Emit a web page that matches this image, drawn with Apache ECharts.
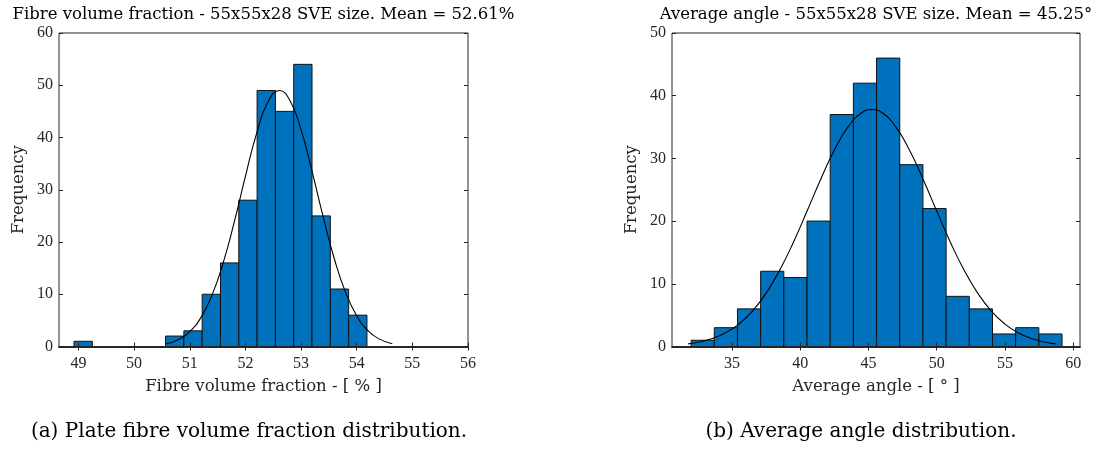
<!DOCTYPE html>
<html>
<head>
<meta charset="utf-8">
<script src="https://cdn.jsdelivr.net/npm/echarts@6/dist/echarts.min.js"></script>
<style>html,body{margin:0;padding:0;background:#fff}#c{width:1099px;height:452px}</style>
</head>
<body>
<div id="c"></div>
<script>
// ---- data: plot (a) fibre volume fraction ----
var binStartA = 48.92;
var binWidthA = 0.329;
var countsA = [1, 0, 0, 0, 0, 2, 3, 10, 16, 28, 49, 45, 54, 25, 11, 6];
var fitXA = [50.58, 50.8, 51.0, 51.2, 51.4, 51.6, 51.8, 52.0, 52.2, 52.4, 52.61, 52.8, 53.0, 53.2, 53.4, 53.6, 53.8, 54.0, 54.2, 54.4, 54.64];
var fitYA = [0.53, 1.35, 2.85, 5.53, 9.83, 16.0, 23.85, 32.57, 40.75, 46.68, 49.0, 47.1, 41.46, 33.44, 24.7, 16.7, 10.36, 5.88, 3.05, 1.46, 0.53];
var xTicksA = [49, 50, 51, 52, 53, 54, 55, 56];
var yTicksA = [0, 10, 20, 30, 40, 50, 60];

// ---- data: plot (b) average angle ----
var binStartB = 32.0;
var binWidthB = 1.699;
var countsB = [1, 3, 6, 12, 11, 20, 37, 42, 46, 29, 22, 8, 6, 2, 3, 2];
var fitXB = [31.78, 32.5, 33.5, 34.5, 35.5, 36.5, 37.5, 38.5, 39.5, 40.5, 41.5, 42.5, 43.5, 44.5, 45.25, 46, 47, 48, 49, 50, 51, 52, 53, 54, 55, 56, 57, 58, 58.72];
var fitYB = [0.42, 0.67, 1.23, 2.15, 3.58, 5.66, 8.52, 12.21, 16.64, 21.6, 26.67, 31.34, 35.03, 37.28, 37.8, 37.28, 35.03, 31.34, 26.67, 21.6, 16.64, 12.21, 8.52, 5.66, 3.58, 2.15, 1.23, 0.67, 0.42];
var xTicksB = [35, 40, 45, 50, 55, 60];
var yTicksB = [0, 10, 20, 30, 40, 50];

var FONT = '"Liberation Serif", "DejaVu Serif", serif';
var TFONT = '"DejaVu Serif", "Liberation Serif", serif';
var AX = '#262626';

function bins(start, w, counts) {
  return counts.map(function (c, i) { return [start + i * w, start + (i + 1) * w, c]; });
}
function zip(xs, ys) { return xs.map(function (x, i) { return [x, ys[i]]; }); }

function renderBar(params, api) {
  var x0 = api.value(0), x1 = api.value(1), y = api.value(2);
  var p0 = api.coord([x0, y]);
  var p1 = api.coord([x1, 0]);
  return {
    type: 'rect',
    shape: { x: p0[0], y: p0[1], width: p1[0] - p0[0], height: p1[1] - p0[1] },
    style: { fill: '#0072BD', stroke: '#111', lineWidth: 1 }
  };
}

function xAxes(gi, min, max, ticks, name) {
  return [{
    type: 'value', gridIndex: gi, position: 'bottom', min: min, max: max,
    axisLine: { show: true, onZero: false, lineStyle: { color: AX, width: 1.8 } }, splitLine: { show: false },
    axisTick: { show: true, inside: true, length: 4, lineStyle: { color: AX }, customValues: ticks },
    axisLabel: { show: true, customValues: ticks, color: '#262626', fontFamily: FONT, fontSize: 16, margin: 9 },
    name: name, nameLocation: 'middle', nameGap: 32,
    nameTextStyle: { color: '#262626', fontFamily: TFONT, fontSize: 16.5 },
    z: 5
  }, {
    type: 'value', gridIndex: gi, position: 'top', min: min, max: max,
    axisLine: { show: false }, splitLine: { show: false },
    axisTick: { show: true, inside: true, length: 4, lineStyle: { color: AX }, customValues: ticks },
    axisLabel: { show: false }
  }];
}
function yAxes(gi, max, ticks) {
  return [{
    type: 'value', gridIndex: gi, position: 'left', min: 0, max: max, interval: 10,
    axisLine: { show: false }, splitLine: { show: false },
    axisTick: { show: true, inside: true, length: 4, lineStyle: { color: AX } },
    axisLabel: { show: true, color: '#262626', fontFamily: FONT, fontSize: 16, margin: 6 },
    name: 'Frequency', nameLocation: 'middle', nameGap: 32, nameRotate: 90,
    nameTextStyle: { color: '#262626', fontFamily: TFONT, fontSize: 16.5 }
  }, {
    type: 'value', gridIndex: gi, position: 'right', min: 0, max: max, interval: 10,
    axisLine: { show: false }, splitLine: { show: false },
    axisTick: { show: true, inside: true, length: 4, lineStyle: { color: AX } },
    axisLabel: { show: false }
  }];
}

var chart = echarts.init(document.getElementById('c'), null, { renderer: 'canvas' });
var option = {
  animation: false,
  backgroundColor: '#fff',
  grid: [
    { left: 59, top: 33, width: 409, height: 313.5, show: true, borderColor: AX, borderWidth: 1, backgroundColor: 'transparent' },
    { left: 672, top: 33, width: 408, height: 313.5, show: true, borderColor: AX, borderWidth: 1, backgroundColor: 'transparent' }
  ],
  xAxis: xAxes(0, 48.65, 56, xTicksA, 'Fibre volume fraction - [ % ]')
    .concat(xAxes(1, 30.6, 60.5, xTicksB, 'Average angle - [ \u00B0 ]')),
  yAxis: yAxes(0, 60, yTicksA).concat(yAxes(1, 50, yTicksB)),
  series: [
    { type: 'custom', xAxisIndex: 0, yAxisIndex: 0, renderItem: renderBar, encode: { x: [0, 1], y: 2 }, data: bins(binStartA, binWidthA, countsA), z: 2 },
    { type: 'line', xAxisIndex: 0, yAxisIndex: 0, data: zip(fitXA, fitYA), smooth: true, symbol: 'none', lineStyle: { color: '#000', width: 1.1 }, z: 3 },
    { type: 'custom', xAxisIndex: 2, yAxisIndex: 2, renderItem: renderBar, encode: { x: [0, 1], y: 2 }, data: bins(binStartB, binWidthB, countsB), z: 2 },
    { type: 'line', xAxisIndex: 2, yAxisIndex: 2, data: zip(fitXB, fitYB), smooth: true, symbol: 'none', lineStyle: { color: '#000', width: 1.1 }, z: 3 }
  ],
  graphic: [
    { type: 'text', x: 263.5, y: 15, style: { text: 'Fibre volume fraction - 55x55x28 SVE size. Mean = 52.61%', font: '16.5px ' + TFONT, fill: '#000', textAlign: 'center', textVerticalAlign: 'middle' } },
    { type: 'text', x: 876, y: 15, style: { text: 'Average angle - 55x55x28 SVE size. Mean = 45.25\u00B0', font: '16.5px ' + TFONT, fill: '#000', textAlign: 'center', textVerticalAlign: 'middle' } },
    { type: 'text', x: 249, y: 432, style: { text: '(a) Plate fibre volume fraction distribution.', font: '20px ' + TFONT, fill: '#000', textAlign: 'center', textVerticalAlign: 'middle' } },
    { type: 'text', x: 861, y: 432, style: { text: '(b) Average angle distribution.', font: '20px ' + TFONT, fill: '#000', textAlign: 'center', textVerticalAlign: 'middle' } }
  ]
};
chart.setOption(option);
</script>
</body>
</html>
